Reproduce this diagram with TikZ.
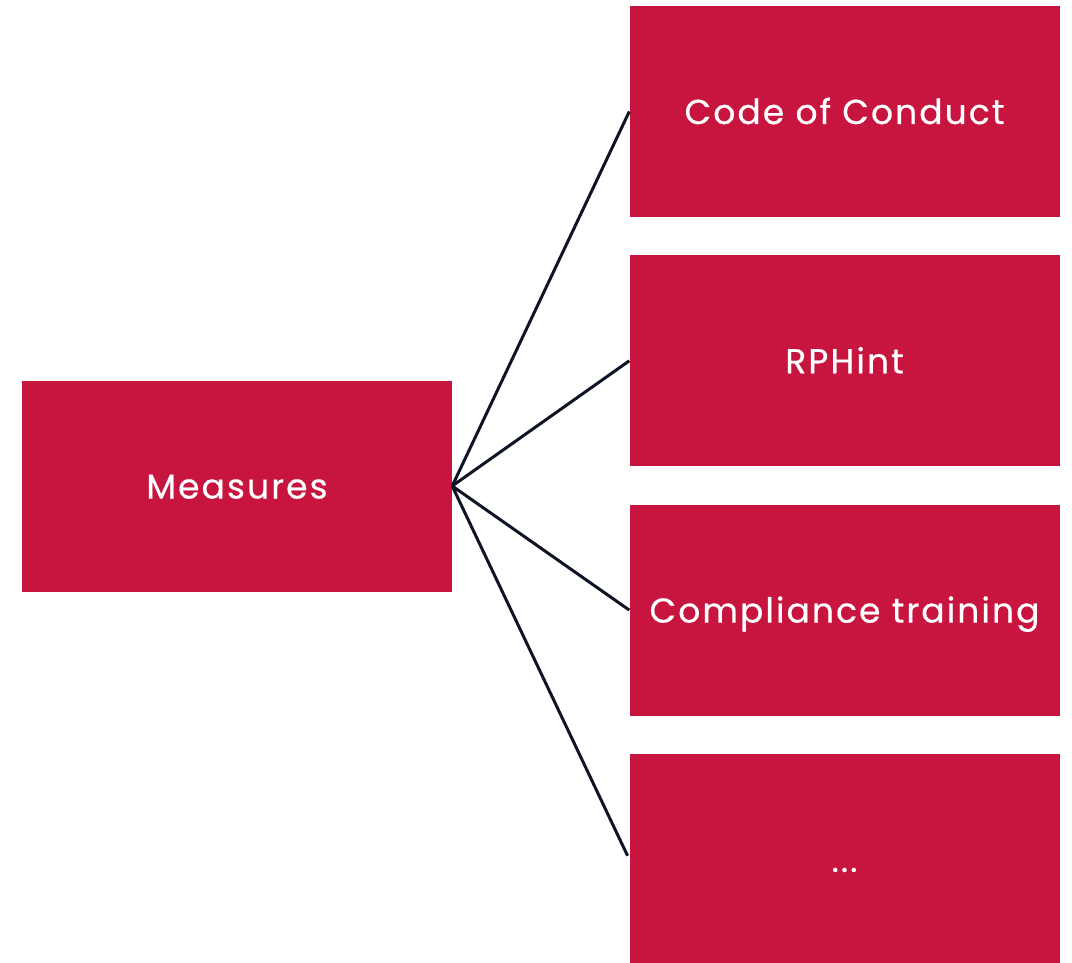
\documentclass[tikz,border=0pt]{standalone}
\usepackage{fontspec}
\setmainfont{Poppins}[LetterSpace=6, FakeBold=0.5]
\usepackage{tikz}
\usetikzlibrary{positioning}
\definecolor{crimson}{RGB}{200,21,64}
\definecolor{navy}{RGB}{15,20,37}
\tikzset{measure/.style={fill=crimson, text=white, minimum width=430pt, minimum height=211pt,
    inner sep=0pt, text height=25pt, text depth=0pt, font=\fontsize{34.5}{40}\selectfont},
link/.style={draw=navy, line width=3pt, shorten >=4pt}
}
\begin{document}
\begin{tikzpicture}[x=1pt, y=1pt, node distance=249.3pt, on grid]
        \useasboundingbox (0,0) rectangle (1072,-963);
        \node[measure] (measures)                 at (237,-486)     {Measures};
        \node[measure] (code)                     at (844.5,-111.5) {Code of Conduct};
        \node[measure] (rphint)   [below=of code]                   {RPHint};
        \node[measure] (training) [below=of rphint]                 {Compliance training};
        \node[measure] (more)     [below=of training]               {...};

        \path[link] (measures.east) -- (code.west)
                    (measures.east) -- (rphint.west)
                    (measures.east) -- (training.west)
                    (measures.east) -- (more.west);
      \end{tikzpicture}
\end{document}
